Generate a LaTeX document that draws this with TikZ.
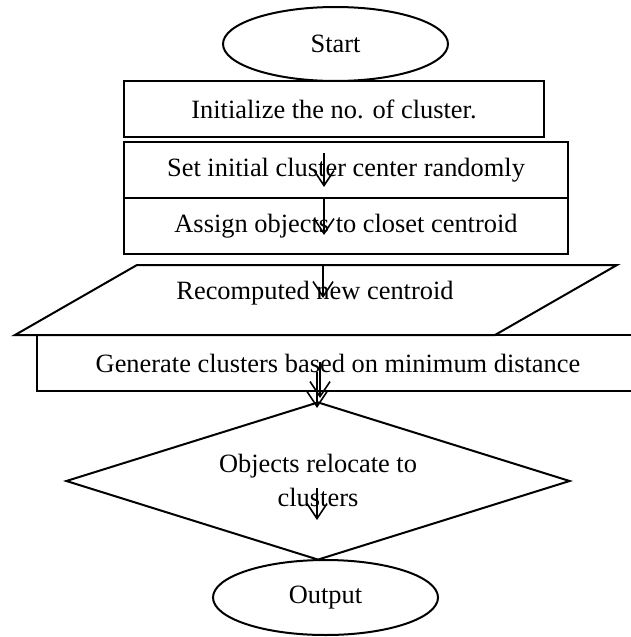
\documentclass[tikz,border=0pt]{standalone}
\usepackage{fontspec}
\setmainfont{Liberation Serif}
\usetikzlibrary{shapes.geometric,arrows.meta}
\begin{document}
\begin{tikzpicture}[x=1pt,y=-1pt,
  box/.style={draw,line width=2pt,rectangle,inner sep=0pt},
  oval/.style={draw,line width=2pt,ellipse,inner sep=0pt},
  lbl/.style={font=\fontsize{26.4}{34}\selectfont,align=center,inner sep=0pt},
  arr/.style={line width=1.6pt,-{Straight Barb[length=15pt,width=20pt,line width=1.6pt]}}]
\useasboundingbox (0,0) rectangle (631,637);
\clip (0,0) rectangle (631,637);
% shapes
\node[oval,minimum width=225pt,minimum height=74pt] (start) at (335.5,44) {};
\node[lbl] (starttxt) at (335.5,44) {Start};
\node[box,minimum width=420pt,minimum height=56pt] (init) at (334,109) {};
\node[lbl] (inittxt) at (334,109) {Initialize the no. of cluster.};
\node[box,minimum width=444pt,minimum height=56pt] (set) at (346,170) {};
\node[lbl] (settxt) at (346,170) {Set initial cluster center randomly};
\node[box,minimum width=444pt,minimum height=56pt] (assign) at (346,226) {};
\node[lbl] (assigntxt) at (346,226) {Assign objects to closet centroid};
\draw[line width=2pt] (137,265) coordinate (p1) -- (617,265) coordinate (p2) -- (495,335) coordinate (p3) -- (15,335) coordinate (p4) -- cycle;
\node[lbl] (recomp) at (315,293) {Recomputed new centroid};
\node[box,minimum width=623pt,minimum height=56pt] (gen) at (348.5,363) {};
\node[lbl] (gentxt) at (338,363) {Generate clusters based on minimum distance};
\node[draw,diamond,line width=2pt,minimum width=504pt,minimum height=158pt,inner sep=0pt] (dec) at (318,481) {};
\node[lbl] (dectxt) at (318,480) {Objects relocate to\\clusters};
\node[oval,minimum width=225pt,minimum height=75pt] (out) at (325.5,597.5) {};
\node[lbl] (outtxt) at (325.5,597.5) {Output};
% arrows
\coordinate (a1s) at (324,153); \coordinate (a1e) at (324,187);
\coordinate (a2s) at (324,198); \coordinate (a2e) at (324,235);
\coordinate (a3s) at (323,265); \coordinate (a3e) at (323,298);
\coordinate (a4s) at (320,362); \coordinate (a4e) at (320,398);
\coordinate (a5s) at (317,372); \coordinate (a5e) at (317,408);
\coordinate (a6s) at (317,488); \coordinate (a6e) at (317,520);
\draw[arr] (a1s) -- (a1e);
\draw[arr] (a2s) -- (a2e);
\draw[arr] (a3s) -- (a3e);
\draw[arr] (a4s) -- (a4e);
\draw[arr] (a5s) -- (a5e);
\draw[arr] (a6s) -- (a6e);
\end{tikzpicture}
\end{document}
